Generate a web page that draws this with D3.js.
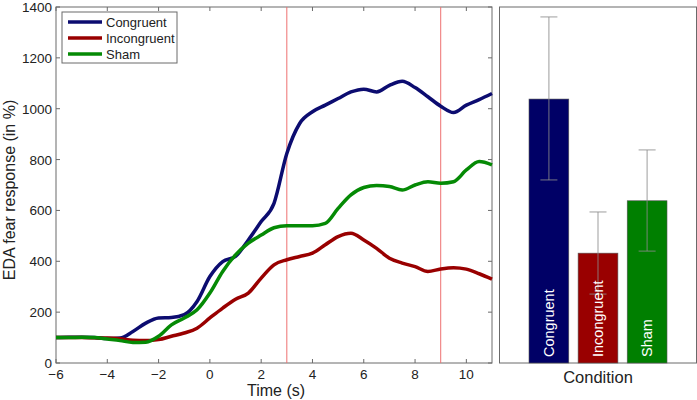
<!DOCTYPE html>
<html>
<head>
<meta charset="utf-8">
<script src="https://d3js.org/d3.v7.min.js"></script>
<style>
  body { margin: 0; background: #fff; }
  text { font-family: "Liberation Sans", Arial, sans-serif; fill: #222; }
</style>
</head>
<body>
<svg width="697" height="400"></svg>
<script>
// time grid (s) and mean EDA fear response (%) per condition
var times = [-6,-5.5,-5,-4.5,-4,-3.5,-3,-2.5,-2,-1.5,-1,-0.5,0,0.5,1,1.5,2,2.5,3,3.5,4,4.5,5,5.5,6,6.5,7,7.5,8,8.5,9,9.5,10,10.5,11];
var congruent = [100,101,101,100,96,98,124,157,177,179,190,242,340,399,419,484,556,628,824,942,988,1014,1040,1066,1077,1066,1092,1108,1083,1047,1010,985,1014,1036,1060];
var incongruent = [100,100,100,99,98,95,89,88,92,105,118,137,177,216,251,275,334,386,406,419,432,465,497,510,484,451,412,393,379,360,370,375,369,351,330];
var sham = [100,100,101,100,94,88,81,82,105,150,177,209,275,360,425,471,503,532,540,540,540,549,608,661,690,698,694,680,700,713,707,713,759,792,779];

var conditions = ["Congruent", "Incongruent", "Sham"];
var lineColors = ["#0c0c70", "#990000", "#058a05"];
var barColors = ["#000066", "#990000", "#007f00"];
var barMeans = [1038, 432, 638];
var barLow = [720, 271, 440];
var barHigh = [1361, 594, 838];
var markers = [3, 9];
var xTicks = [-6, -4, -2, 0, 2, 4, 6, 8, 10];
var yTicks = [0, 200, 400, 600, 800, 1000, 1200, 1400];

var svg = d3.select("svg");
var yTop = 7, yBot = 363;
var x = d3.scaleLinear().domain([-6, 11]).range([56, 492]);
var y = d3.scaleLinear().domain([0, 1400]).range([yBot, yTop]);
var axisColor = "#6a6a6a";

// left panel frame
svg.append("rect").attr("x", 56).attr("y", yTop).attr("width", 436).attr("height", yBot - yTop)
  .attr("fill", "none").attr("stroke", axisColor).attr("stroke-width", 1);

// ticks (inward, mirrored)
xTicks.forEach(function (t) {
  svg.append("line").attr("x1", x(t)).attr("x2", x(t)).attr("y1", yBot).attr("y2", yBot - 4).attr("stroke", axisColor);
  svg.append("line").attr("x1", x(t)).attr("x2", x(t)).attr("y1", yTop).attr("y2", yTop + 4).attr("stroke", axisColor);
  svg.append("text").attr("x", x(t)).attr("y", 379).attr("text-anchor", "middle")
    .style("font-size", "13.5px").text(t < 0 ? "\u2212" + Math.abs(t) : t);
});
yTicks.forEach(function (v) {
  svg.append("line").attr("x1", 56).attr("x2", 60).attr("y1", y(v)).attr("y2", y(v)).attr("stroke", axisColor);
  svg.append("line").attr("x1", 492).attr("x2", 488).attr("y1", y(v)).attr("y2", y(v)).attr("stroke", axisColor);
  svg.append("text").attr("x", 52).attr("y", y(v) + 5).attr("text-anchor", "end")
    .style("font-size", "13.5px").text(v);
});

svg.append("text").attr("x", 276).attr("y", 396).attr("text-anchor", "middle")
  .style("font-size", "16px").text("Time (s)");
svg.append("text").attr("transform", "translate(15,190) rotate(-90)")
  .attr("text-anchor", "middle").style("font-size", "16px").text("EDA fear response (in %)");

// stimulus markers
markers.forEach(function (m) {
  svg.append("line").attr("x1", x(m)).attr("x2", x(m)).attr("y1", yTop).attr("y2", yBot)
    .attr("stroke", "#ee7070").attr("stroke-width", 1);
});

// curves
var line = d3.line().curve(d3.curveMonotoneX)
  .x(function (d, i) { return x(times[i]); })
  .y(function (d) { return y(d); });
[congruent, incongruent, sham].forEach(function (s, i) {
  svg.append("path").datum(s).attr("d", line).attr("fill", "none")
    .attr("stroke", lineColors[i]).attr("stroke-width", 3.5).attr("stroke-linejoin", "round");
});

// legend
var lg = svg.append("g");
lg.append("rect").attr("x", 62).attr("y", 12).attr("width", 115).attr("height", 51)
  .attr("fill", "#fff").attr("stroke", axisColor);
conditions.forEach(function (c, i) {
  var yy = 22 + i * 16;
  lg.append("line").attr("x1", 68).attr("x2", 102).attr("y1", yy).attr("y2", yy)
    .attr("stroke", lineColors[i]).attr("stroke-width", 3.5);
  lg.append("text").attr("x", 106).attr("y", yy + 5).style("font-size", "13px").text(c);
});

// right panel
var xb = d3.scaleBand().domain(conditions).range([529, 667]).paddingInner(0.19).paddingOuter(0);
svg.append("rect").attr("x", 499.5).attr("y", yTop).attr("width", 197).attr("height", yBot - yTop)
  .attr("fill", "none").attr("stroke", axisColor);
conditions.forEach(function (c, i) {
  var bx = xb(c), bw = xb.bandwidth(), cx = bx + bw / 2;
  svg.append("rect").attr("x", bx).attr("y", y(barMeans[i])).attr("width", bw)
    .attr("height", yBot - y(barMeans[i])).attr("fill", barColors[i]).attr("stroke", "#555").attr("stroke-width", 0.6);
  var eb = svg.append("g").attr("stroke", "#8a8a8a").attr("stroke-opacity", 0.7).attr("stroke-width", 1.2);
  eb.append("line").attr("x1", cx).attr("x2", cx).attr("y1", y(barLow[i])).attr("y2", y(barHigh[i]));
  eb.append("line").attr("x1", cx - 8.5).attr("x2", cx + 8.5).attr("y1", y(barLow[i])).attr("y2", y(barLow[i]));
  eb.append("line").attr("x1", cx - 8.5).attr("x2", cx + 8.5).attr("y1", y(barHigh[i])).attr("y2", y(barHigh[i]));
  svg.append("text").attr("transform", "translate(" + (cx + 5) + ",357) rotate(-90)")
    .style("font-size", "14.5px").style("fill", "#fff").text(c);
});
svg.append("text").attr("x", 598).attr("y", 383).attr("text-anchor", "middle")
  .style("font-size", "16.5px").text("Condition");
</script>
</body>
</html>
